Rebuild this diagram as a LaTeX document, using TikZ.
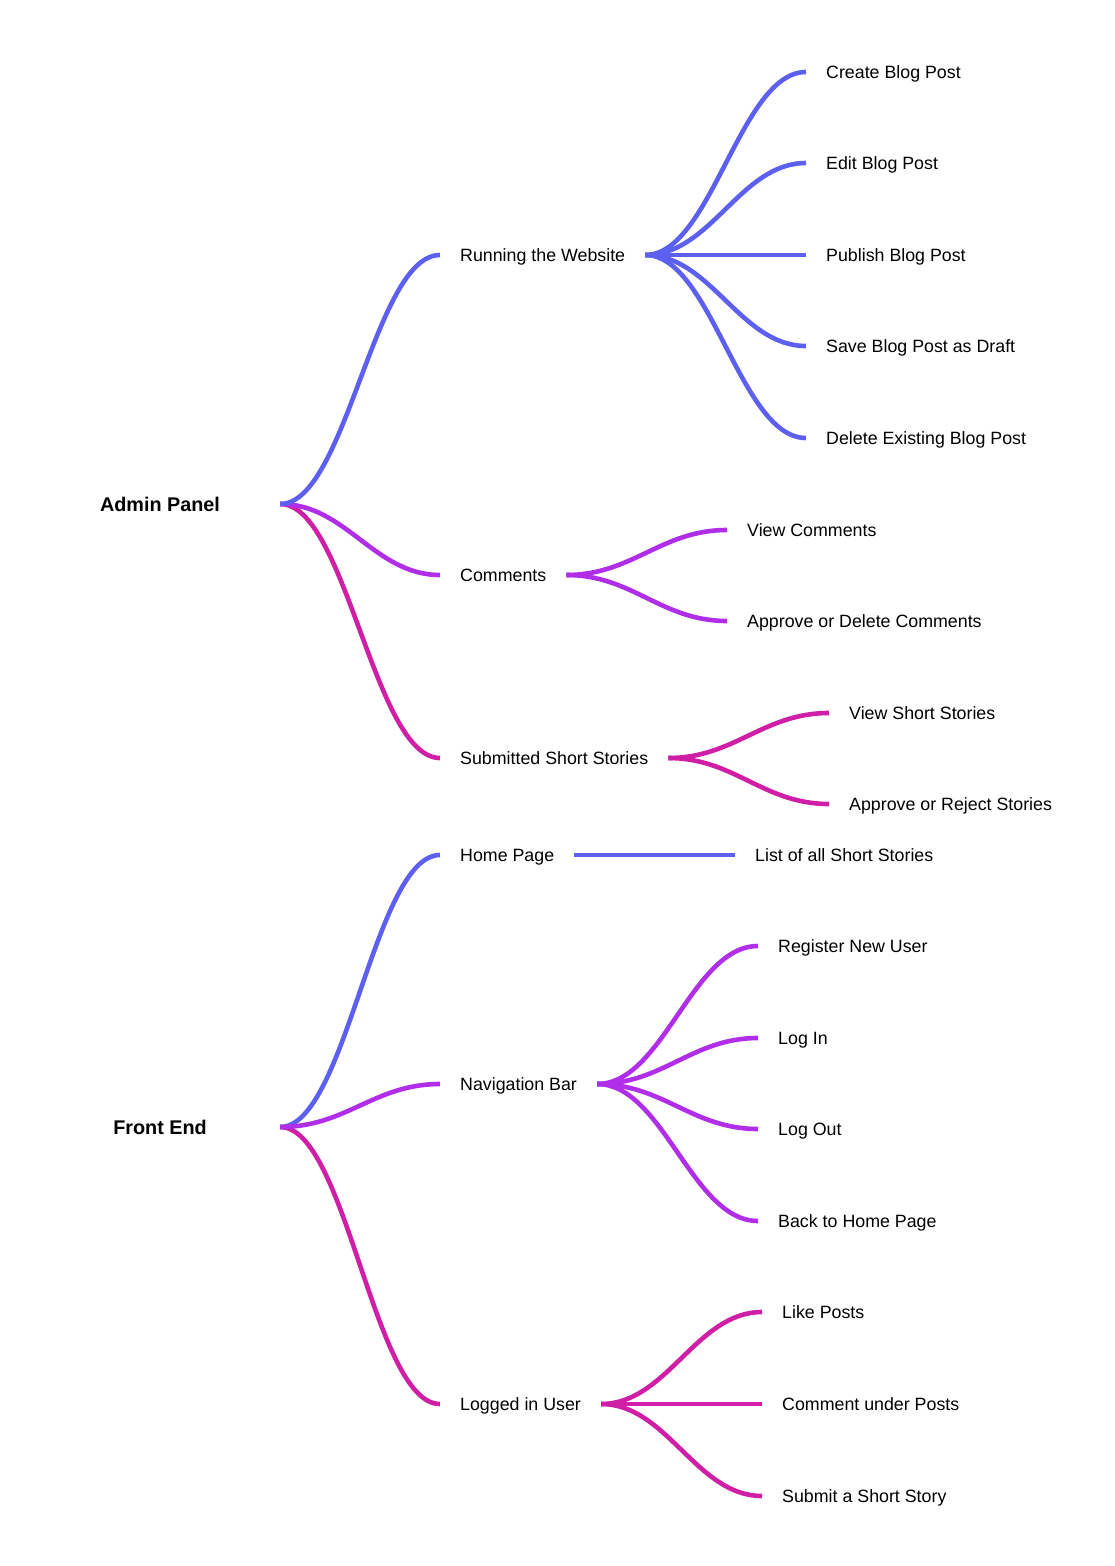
\documentclass[tikz,border=0pt]{standalone}
\usepackage{fontspec}
\setmainfont{Liberation Sans}
\definecolor{cblue}{HTML}{5D5FEF}
\definecolor{cpurp}{HTML}{B12EE8}
\definecolor{cmag}{HTML}{CF1FA6}
\tikzset{
  rootnode/.style={font=\fontsize{19.8pt}{22pt}\selectfont\bfseries, minimum width=240pt, inner xsep=0pt, text height=14.2pt, text depth=0pt, inner ysep=0pt},
  item/.style={anchor=west, font=\fontsize{17.8pt}{20pt}\selectfont, inner xsep=20pt, inner ysep=0pt, text height=12.8pt, text depth=0pt},
  link/.style={line width=4.6pt, line cap=butt},
  lb/.style={link, cblue},
  lp/.style={link, cpurp},
  lm/.style={link, cmag}
}
\begin{document}
\begin{tikzpicture}[x=1pt, y=-1pt]
\useasboundingbox (0,0) rectangle (1114,1566);
% roots
\node[rootnode] (adm) at (160,504) {Admin Panel};
\node[rootnode] (fe)  at (160,1127) {Front End};
% level 2
\node[item] (run)  at (440,255)  {Running the Website};
\node[item] (com)  at (440,575)  {Comments};
\node[item] (sub)  at (440,758)  {Submitted Short Stories};
\node[item] (home) at (440,855)  {Home Page};
\node[item] (nav)  at (440,1084) {Navigation Bar};
\node[item] (log)  at (440,1404) {Logged in User};
% level 3
\node[item] (create) at (806,72)  {Create Blog Post};
\node[item] (edit)   at (806,163) {Edit Blog Post};
\node[item] (pub)    at (806,255) {Publish Blog Post};
\node[item] (draft)  at (806,346) {Save Blog Post as Draft};
\node[item] (del)    at (806,438) {Delete Existing Blog Post};
\node[item] (viewc)  at (727,530) {View Comments};
\node[item] (appc)   at (727,621) {Approve or Delete Comments};
\node[item] (views)  at (829,713) {View Short Stories};
\node[item] (apps)   at (829,804) {Approve or Reject Stories};
\node[item] (list)   at (735,855) {List of all Short Stories};
\node[item] (reg)    at (758,946) {Register New User};
\node[item] (login)  at (758,1038) {Log In};
\node[item] (logout) at (758,1129) {Log Out};
\node[item] (back)   at (758,1221) {Back to Home Page};
\node[item] (like)   at (762,1312) {Like Posts};
\node[item] (cmt)    at (762,1404) {Comment under Posts};
\node[item] (subm)   at (762,1496) {Submit a Short Story};
% connectors
\newcommand\conn[3]{\draw[#1] (#2.east) .. controls +(66,0) and +(-66,0) .. (#3.west);}
\conn{lm}{adm}{sub}
\conn{lp}{adm}{com}
\conn{lb}{adm}{run}
\conn{lb}{run}{create}
\conn{lb}{run}{edit}
\conn{lb}{run}{pub}
\conn{lb}{run}{draft}
\conn{lb}{run}{del}
\conn{lp}{com}{viewc}
\conn{lp}{com}{appc}
\conn{lm}{sub}{views}
\conn{lm}{sub}{apps}
\conn{lm}{fe}{log}
\conn{lb}{fe}{home}
\conn{lp}{fe}{nav}
\draw[lb] (home.east) -- (list.west);
\conn{lp}{nav}{reg}
\conn{lp}{nav}{login}
\conn{lp}{nav}{logout}
\conn{lp}{nav}{back}
\conn{lm}{log}{like}
\conn{lm}{log}{cmt}
\conn{lm}{log}{subm}
\end{tikzpicture}
\end{document}
